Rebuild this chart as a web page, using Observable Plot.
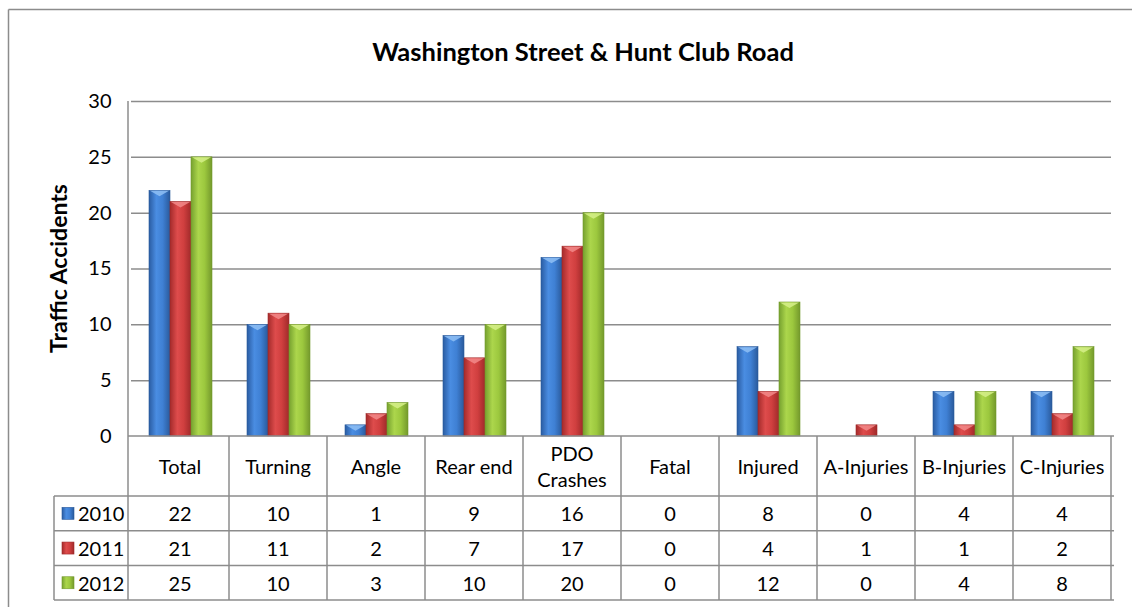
<!DOCTYPE html>
<html><head><meta charset="utf-8">
<script src="https://cdn.jsdelivr.net/npm/d3@7"></script>
<script src="https://cdn.jsdelivr.net/npm/@observablehq/plot@0.6"></script>
<style>
html,body{margin:0;background:#fff;overflow:hidden;}
#chart{position:relative;width:1132px;height:607px;overflow:hidden;}
</style>
</head><body><div id="chart"></div>
<script>
const categories = ["Total","Turning","Angle","Rear end","PDO Crashes","Fatal","Injured","A-Injuries","B-Injuries","C-Injuries"];
const years = ["2010","2011","2012"];
const values2010 = [22,10,1,9,16,0,8,0,4,4];
const values2011 = [21,11,2,7,17,0,4,1,1,2];
const values2012 = [25,10,3,10,20,0,12,0,4,8];
const yTicks = [0,5,10,15,20,25,30];
const titleText = "Washington Street & Hunt Club Road";
const yLabelText = "Traffic Accidents";

const seriesValues = [values2010, values2011, values2012];
const data = years.flatMap((yr, i) => categories.map((c, j) => ({category: c, year: yr, value: seriesValues[i][j]})));

const gradients = {
  "2010": ["#2a5ca2", "#4a8de2", "#3f80d4", "#2a5a9c", "#8fc0f5"],
  "2011": ["#a42b2b", "#de4c4c", "#d03f3f", "#a02a2a", "#f28a8a"],
  "2012": ["#76a12f", "#acd64c", "#9cc83e", "#74992c", "#d6f08a"]
};
const gridColor = "#8c8c8c";
const FONT = "Lato, 'Open Sans', sans-serif";
const FS = 20;

const plot = Plot.plot({
  width: 1132, height: 607,
  marginTop: 101, marginBottom: 171, marginLeft: 128, marginRight: 18,
  style: {fontFamily: FONT, fontSize: "20px", color: "#000", background: "transparent"},
  fx: {domain: categories, paddingInner: 0, paddingOuter: 0, axis: null, label: null},
  x: {domain: years, paddingInner: 0, paddingOuter: 0.74, axis: null},
  y: {domain: [0, 30], ticks: yTicks, tickSize: 0, tickPadding: 20, label: null, tickFormat: d => String(d)},
  marks: [
    Plot.gridY(yTicks.filter(t => t > 0), {stroke: gridColor, strokeOpacity: 1, strokeWidth: 1.5}),
    ...years.map(yr => Plot.barY(data.filter(d => d.year === yr), {
      fx: "category", x: "year", y: "value", fill: `url(#grad${yr})`,
      stroke: gradients[yr][3], strokeWidth: 0.6, className: "bar" + yr
    }))
  ]
});

const svg = d3.select(plot);
const defs = svg.insert("defs", ":first-child");
years.forEach(yr => {
  const g = defs.append("linearGradient").attr("id", "grad" + yr).attr("x1", 0).attr("x2", 1).attr("y1", 0).attr("y2", 0);
  const c = gradients[yr];
  [[0, c[0]], [0.35, c[1]], [0.65, c[2]], [1, c[3]]].forEach(([o, col]) =>
    g.append("stop").attr("offset", o).attr("stop-color", col));
});

// top bevel highlight on each bar
years.forEach(yr => {
  svg.selectAll(`.bar${yr} rect`).each(function() {
    const r = d3.select(this);
    const x = +r.attr("x"), y = +r.attr("y"), w = +r.attr("width"), h = +r.attr("height");
    if (!(h > 0)) return;
    const bh = Math.min(6, h);
    d3.select(this.parentNode).append("polygon")
      .attr("points", `${x + 1},${y + 0.5} ${x + w - 1},${y + 0.5} ${x + w / 2},${y + bh}`)
      .attr("fill", gradients[yr][4]).attr("fill-opacity", 0.85).attr("stroke", "none");
  });
});

const fx = plot.scale("fx");
const yS = plot.scale("y");
const [x0, x1] = fx.range;
const bw = fx.bandwidth;
const yTop = yS.apply(30);
const yZero = yS.apply(0);
const headerH = 60, rowH = 34.7;
const legendLeft = 54;

const deco = svg.append("g").attr("font-family", FONT).attr("fill", "#000").attr("text-anchor", "start");

// outer chart border (top & left visible)
deco.append("line").attr("x1", 8.5).attr("x2", 1132).attr("y1", 9.5).attr("y2", 9.5).attr("stroke", gridColor).attr("stroke-width", 1.5);
deco.append("line").attr("x1", 8.5).attr("x2", 8.5).attr("y1", 9.5).attr("y2", 607).attr("stroke", gridColor).attr("stroke-width", 1.5);

// title
deco.append("text").attr("x", 583).attr("y", 51).attr("text-anchor", "middle").attr("dominant-baseline", "central")
  .attr("font-weight", "bold").attr("font-size", 25.5).text(titleText);

// y label
deco.append("text").attr("transform", `translate(58,${(yTop + yZero) / 2}) rotate(-90)`)
  .attr("text-anchor", "middle").attr("dominant-baseline", "central")
  .attr("font-weight", "bold").attr("font-size", 23).text(yLabelText);

// table
const tbl = deco.append("g").attr("stroke", gridColor).attr("stroke-width", 1.5).attr("fill", "none");
const bottom = yZero + headerH + 3 * rowH;
tbl.append("line").attr("x1", x0).attr("x2", x0).attr("y1", yTop).attr("y2", bottom);
categories.forEach(c => {
  const xr = fx.apply(c) + bw;
  tbl.append("line").attr("x1", xr).attr("x2", xr).attr("y1", yZero).attr("y2", bottom);
});
tbl.append("line").attr("x1", x0).attr("x2", x1).attr("y1", yZero).attr("y2", yZero);
for (let r = 0; r <= 3; r++) {
  const yy = yZero + headerH + r * rowH;
  tbl.append("line").attr("x1", legendLeft).attr("x2", x1).attr("y1", yy).attr("y2", yy);
}
tbl.append("line").attr("x1", legendLeft).attr("x2", legendLeft).attr("y1", yZero + headerH).attr("y2", bottom);

// header labels
categories.forEach(c => {
  const cx = fx.apply(c) + bw / 2;
  const words = c === "PDO Crashes" ? ["PDO", "Crashes"] : [c];
  const t = deco.append("text").attr("text-anchor", "middle").attr("font-size", FS);
  words.forEach((w, i) => {
    t.append("tspan").attr("x", cx)
      .attr("y", yZero + headerH / 2 + (i - (words.length - 1) / 2) * 26)
      .attr("dominant-baseline", "central").text(w);
  });
});

// data rows
years.forEach((yr, r) => {
  const cy = yZero + headerH + r * rowH + rowH / 2;
  const c = gradients[yr];
  deco.append("rect").attr("x", 62).attr("y", cy - 6).attr("width", 12).attr("height", 12)
    .attr("fill", `url(#grad${yr})`).attr("stroke", c[3]).attr("stroke-width", 0.6);
  deco.append("text").attr("x", 78).attr("y", cy).attr("text-anchor", "start")
    .attr("dominant-baseline", "central").attr("font-size", FS).text(yr);
  categories.forEach((cat, j) => {
    deco.append("text").attr("x", fx.apply(cat) + bw / 2).attr("y", cy)
      .attr("text-anchor", "middle").attr("dominant-baseline", "central").attr("font-size", FS)
      .text(seriesValues[r][j]);
  });
});

document.getElementById("chart").appendChild(plot);
</script>
</body></html>
